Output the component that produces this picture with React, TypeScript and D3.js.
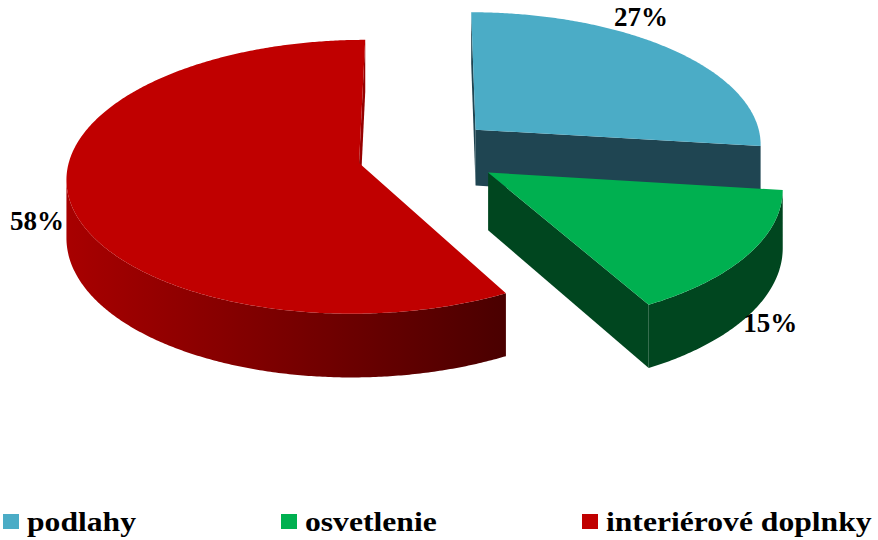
import React from "react";
import * as d3 from "d3";

// ---- data ----
const categories = ["podlahy", "osvetlenie", "interiérové doplnky"];
const values = [27, 15, 58];
const labels = ["27%", "15%", "58%"];
const topColors = ["#4BACC6", "#00B050", "#C00000"];
const faceColors = ["#1F4552", "#00461F", "#960000"];
const wallStops = [
  ["#1F4552", "#1F4552"],
  ["#00461F", "#00461F"],
  ["#A80000", "#4A0000"],
];

// ---- layout / style ----
const W = 878;
const H = 540;
const X0 = 426.7;
const Y0 = 155.3;
const K = 288.7;
const A = 134;
const P = 0.1;
const D = 57;
const explode = [
  [0.1725, -0.195],
  [0.21, 0.127],
  [-0.233, 0.0572],
];
const labelPolar = [
  [34.4, 1.16],
  [139.3, 1.3],
  [248.9, 1.13],
];
const legendX = [3, 281, 582];
const drawOrder = [0, 2, 1];
const FONT = "'Liberation Serif', 'Times New Roman', serif";

type Pt = [number, number];

function proj(u: number, v: number, h: number): Pt {
  const w = 1 - P * v;
  return [X0 + (K * u) / w, Y0 + (A * v + h * D) / w];
}

function shoelace(pts: Pt[]): number {
  let s = 0;
  for (let i = 0; i < pts.length; i++) {
    const a = pts[i];
    const b = pts[(i + 1) % pts.length];
    s += a[0] * b[1] - b[0] * a[1];
  }
  return s;
}

const line = d3.line<Pt>();
const poly = (pts: Pt[]) => (line(pts) || "") + "Z";

export default function App() {
  const arcs = d3.pie<number>().sort(null).value((d) => d)(values);

  const slices = arcs.map((arc, i) => {
    const [cu, cv] = explode[i];
    const a0 = arc.startAngle;
    const a1 = arc.endAngle;
    const rim = (phi: number, h: number) =>
      proj(cu + Math.sin(phi), cv - Math.cos(phi), h);
    const N = Math.max(8, Math.ceil((a1 - a0) / (Math.PI / 360)));
    const phis = d3.range(N + 1).map((k) => a0 + ((a1 - a0) * k) / N);
    const cTop = proj(cu, cv, 0);
    const cBot = proj(cu, cv, 1);
    const topPath = poly([cTop, ...phis.map((p) => rim(p, 0))]);

    // walls
    const walls: string[] = [];
    let run: number[] = [];
    const flush = () => {
      if (run.length) {
        const idx = [run[0], ...run.map((k) => k + 1)];
        const tops = idx.map((k) => rim(phis[k], 0));
        const bots = idx.map((k) => rim(phis[k], 1)).reverse();
        walls.push(poly([...tops, ...bots]));
      }
      run = [];
    };
    for (let k = 0; k < N; k++) {
      const q: Pt[] = [
        rim(phis[k], 0),
        rim(phis[k + 1], 0),
        rim(phis[k + 1], 1),
        rim(phis[k], 1),
      ];
      if (shoelace(q) < 0) run.push(k);
      else flush();
    }
    flush();

    // radial faces
    const faces: string[] = [];
    const sf: Pt[] = [cTop, rim(a0, 0), rim(a0, 1), cBot];
    if (shoelace(sf) < 0) faces.push(poly(sf));
    const ef: Pt[] = [rim(a1, 0), cTop, cBot, rim(a1, 1)];
    if (shoelace(ef) < 0) faces.push(poly(ef));

    const xs = phis.map((p) => rim(p, 0)[0]);
    const [lp, rp] = labelPolar[i];
    const la = (lp * Math.PI) / 180;
    const lpt = proj(cu + rp * Math.sin(la), cv - rp * Math.cos(la), 0);
    return {
      i,
      topPath,
      walls,
      faces,
      xmin: d3.min(xs) as number,
      xmax: d3.max(xs) as number,
      lpt,
    };
  });

  return (
    <svg
      width={W}
      height={H}
      style={{ position: "absolute", left: 0, top: 0, background: "#fff" }}
    >
      <defs>
        {slices.map((s) => (
          <linearGradient
            key={s.i}
            id={`wall${s.i}`}
            gradientUnits="userSpaceOnUse"
            x1={s.xmin}
            x2={s.xmax}
            y1={0}
            y2={0}
          >
            <stop offset="0" stopColor={wallStops[s.i][0]} />
            <stop offset="1" stopColor={wallStops[s.i][1]} />
          </linearGradient>
        ))}
      </defs>
      {drawOrder.map((i) => {
        const s = slices[i];
        return (
          <g key={i}>
            {s.faces.map((d, k) => (
              <path key={"f" + k} d={d} fill={faceColors[i]} />
            ))}
            {s.walls.map((d, k) => (
              <path key={"w" + k} d={d} fill={`url(#wall${i})`} />
            ))}
            <path d={s.topPath} fill={topColors[i]} />
          </g>
        );
      })}
      {slices.map((s) => (
        <text
          key={"l" + s.i}
          x={s.lpt[0]}
          y={s.lpt[1]}
          dy="0.35em"
          textAnchor="middle"
          fontFamily={FONT}
          fontWeight="bold"
          fontSize={27}
          fill="#000"
        >
          {labels[s.i]}
        </text>
      ))}
      {categories.map((c, i) => (
        <g key={c}>
          <rect x={legendX[i]} y={514} width={16} height={15} fill={topColors[i]} />
          <text
            transform={`translate(${legendX[i] + 24},531) scale(1.13,1)`}
            fontFamily={FONT}
            fontWeight="bold"
            fontSize={28}
            fill="#000"
          >
            {c}
          </text>
        </g>
      ))}
    </svg>
  );
}
